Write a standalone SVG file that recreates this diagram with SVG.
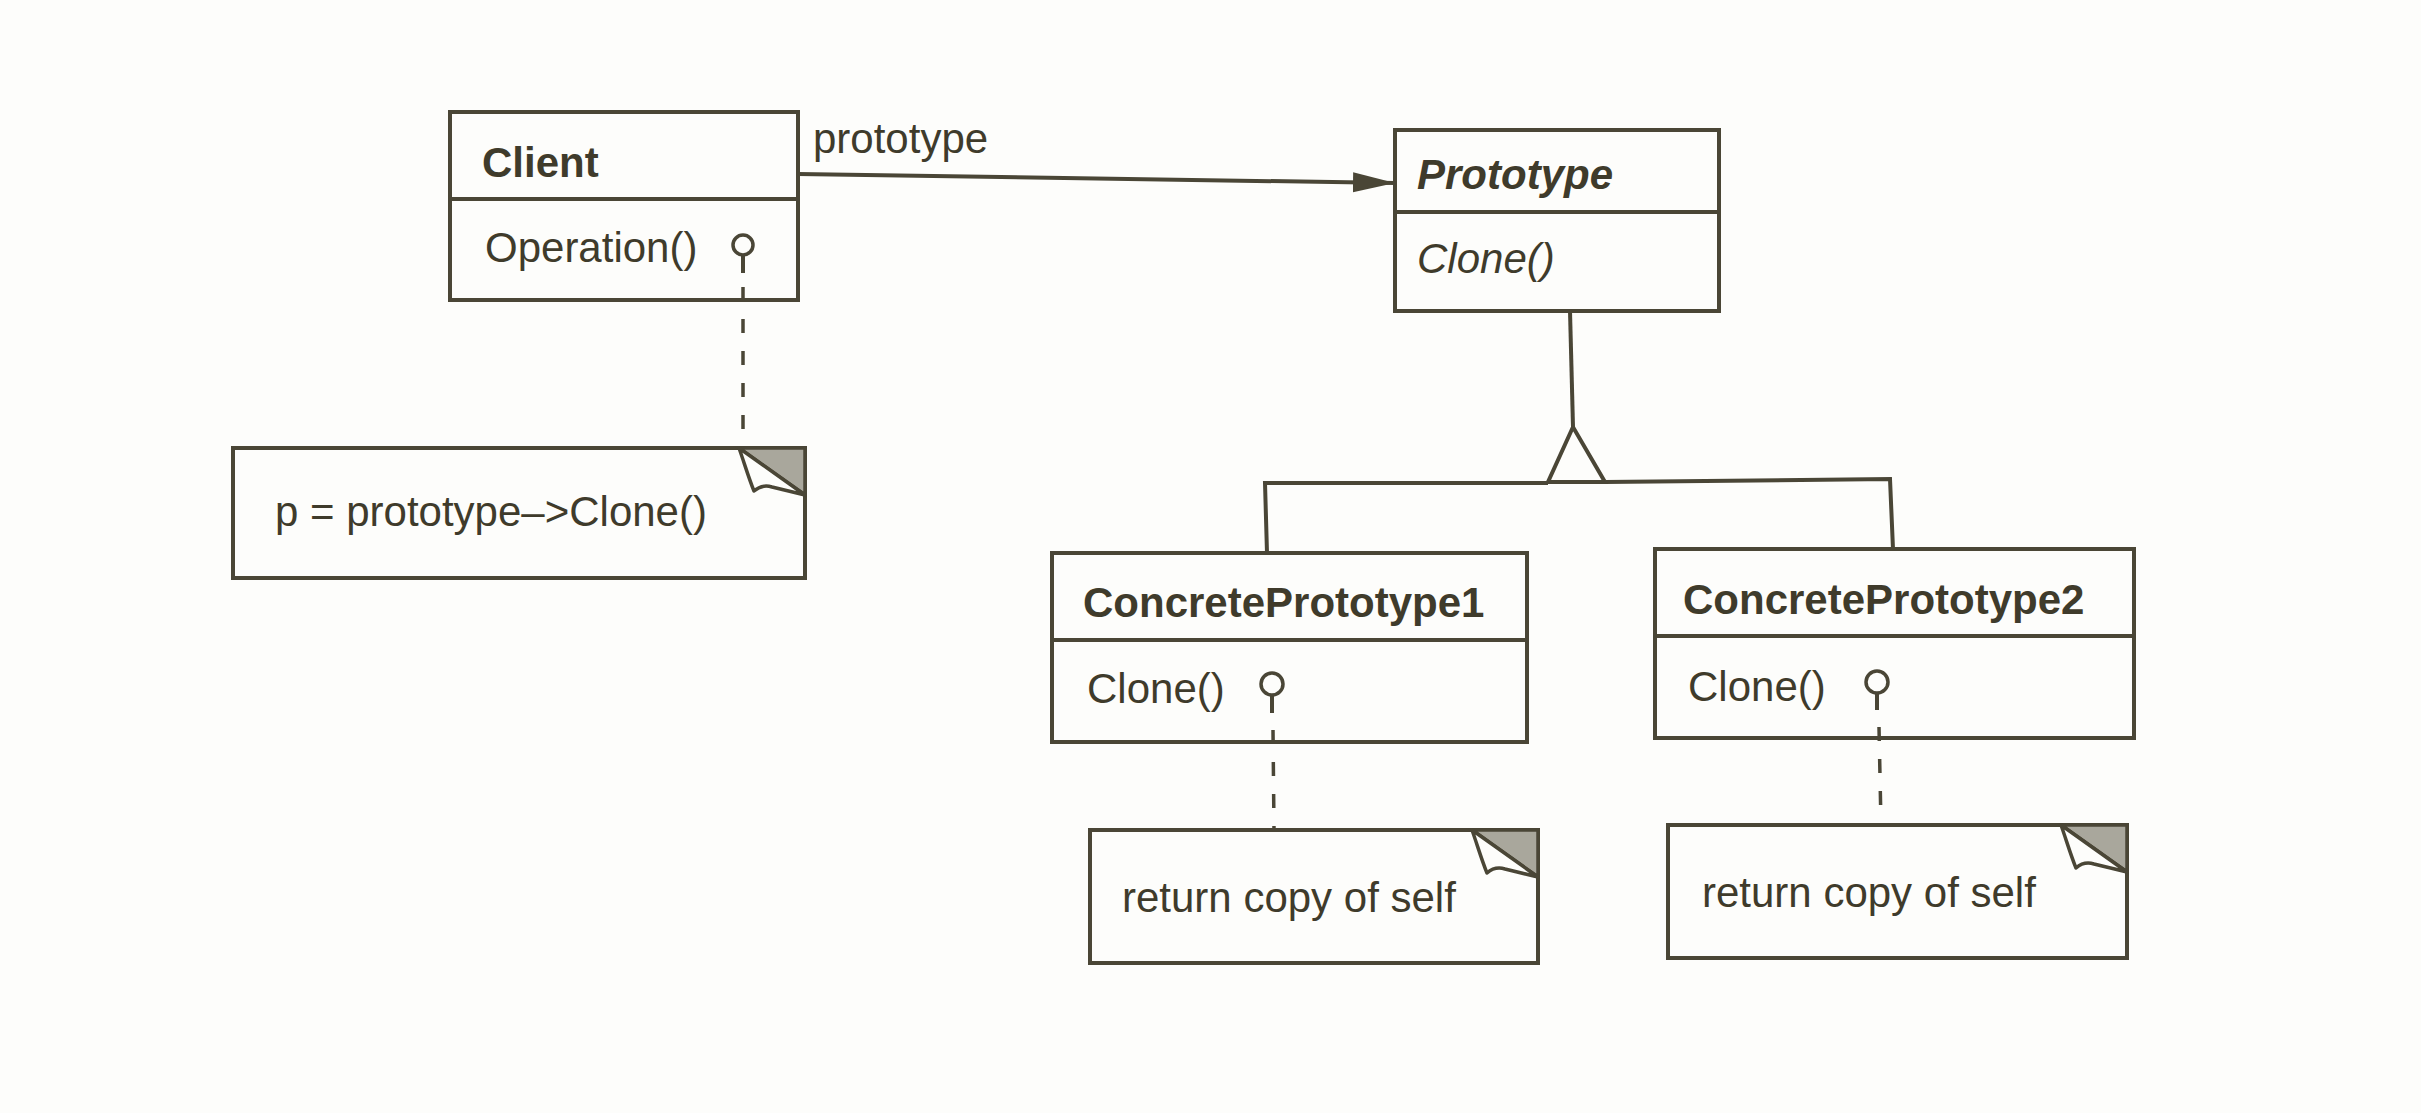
<svg xmlns="http://www.w3.org/2000/svg" xmlns:xlink="http://www.w3.org/1999/xlink" width="2421" height="1113" viewBox="0 0 2421 1113">
<style>
.box{fill:none;stroke:#4a4636;stroke-width:4}
.ln{fill:none;stroke:#4a4636;stroke-width:4}
.dash{fill:none;stroke:#4a4636;stroke-width:3.5;stroke-dasharray:14 18}
.lol{fill:#fdfdfb;stroke:#4a4636;stroke-width:3.5}
text{font-family:"Liberation Sans",Arial,sans-serif;font-size:42px;fill:#3f3b2b}
.b{font-weight:bold}
.i{font-style:italic}
</style>
<defs>
<marker id="arr" markerWidth="44" markerHeight="22" refX="42" refY="11" orient="auto" markerUnits="userSpaceOnUse">
<path d="M0,1 L42,11 L0,21 Z" fill="#4a4636"/>
</marker>
<g id="fold">
<path d="M-66,0 L0,0 L0,47 Z" fill="#a9a79c" stroke="#4a4636" stroke-width="3.5"/>
<path d="M-66,0 C-61,14 -56,31 -51,43 Q-43,36 -33,39 L0,47 Z" fill="#fdfdfb" stroke="#4a4636" stroke-width="3.5" stroke-linejoin="round"/>
</g>
</defs>
<rect width="2421" height="1113" fill="#fdfdfb"/>

<g id="connectors">
<path class="ln" d="M798,174 L1395,183" marker-end="url(#arr)"/>
<text x="813" y="153">prototype</text>
<path class="ln" d="M1570,311 L1573,427"/>
<path class="ln" d="M1573,427 L1548,482 L1605,482 Z"/>
<path class="ln" d="M1267,553 L1265,483 L1548,483 M1605,482 L1890,479 L1893,549"/>
<path class="ln" d="M743,256 L743,273"/>
<path class="dash" d="M743,287 L743,448"/>
<path class="ln" d="M1272,696 L1272,713"/>
<path class="dash" d="M1273,730 L1274,830"/>
<path class="ln" d="M1877,694 L1877,710"/>
<path class="dash" d="M1879,727 L1881,825"/>
</g>

<g id="client">
<rect class="box" x="450" y="112" width="348" height="188"/>
<line class="ln" x1="450" y1="199" x2="798" y2="199"/>
<text class="b" x="482" y="177">Client</text>
<text x="485" y="262">Operation()</text>
<circle class="lol" cx="743" cy="245" r="10"/>
</g>

<g id="prototype">
<rect class="box" x="1395" y="130" width="324" height="181"/>
<line class="ln" x1="1395" y1="212" x2="1719" y2="212"/>
<text class="b i" x="1417" y="189">Prototype</text>
<text class="i" x="1417" y="273">Clone()</text>
</g>

<g id="concrete1">
<rect class="box" x="1052" y="553" width="475" height="189"/>
<line class="ln" x1="1052" y1="640" x2="1527" y2="640"/>
<text class="b" x="1083" y="617">ConcretePrototype1</text>
<text x="1087" y="703">Clone()</text>
<circle class="lol" cx="1272" cy="684" r="11"/>
</g>

<g id="concrete2">
<rect class="box" x="1655" y="549" width="479" height="189"/>
<line class="ln" x1="1655" y1="636" x2="2134" y2="636"/>
<text class="b" x="1683" y="614">ConcretePrototype2</text>
<text x="1688" y="701">Clone()</text>
<circle class="lol" cx="1877" cy="682" r="11"/>
</g>

<g id="note-client">
<rect class="box" x="233" y="448" width="572" height="130"/>
<use xlink:href="#fold" x="805" y="448"/>
<text x="275" y="526">p = prototype–&gt;Clone()</text>
</g>

<g id="note-concrete1">
<rect class="box" x="1090" y="830" width="448" height="133"/>
<use xlink:href="#fold" x="1538" y="830"/>
<text x="1122" y="912">return copy of self</text>
</g>

<g id="note-concrete2">
<rect class="box" x="1668" y="825" width="459" height="133"/>
<use xlink:href="#fold" x="2127" y="825"/>
<text x="1702" y="907">return copy of self</text>
</g>
</svg>
